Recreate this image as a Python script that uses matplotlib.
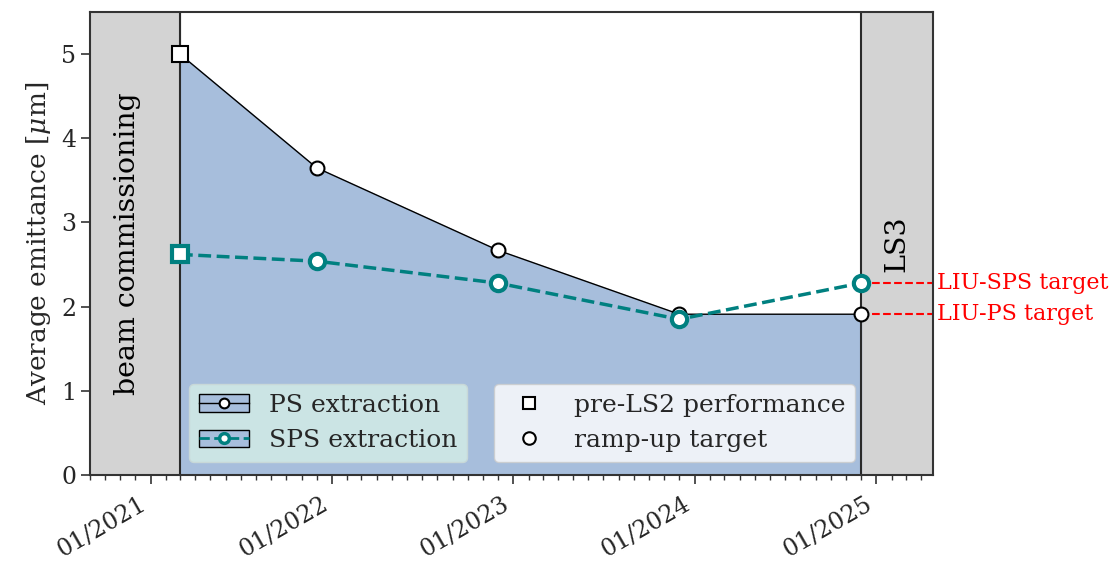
import datetime as dt
import matplotlib
matplotlib.use("Agg")
import matplotlib.pyplot as plt
import matplotlib.dates as mdates
from matplotlib.lines import Line2D
from matplotlib.patches import Patch

plt.rcParams["font.family"] = "DejaVu Serif"
plt.rcParams["mathtext.fontset"] = "dejavuserif"

# ---- data ---------------------------------------------------------------
dates = [dt.datetime(2021, 3, 1), dt.datetime(2021, 12, 1), dt.datetime(2022, 12, 1),
         dt.datetime(2023, 12, 1), dt.datetime(2024, 12, 1)]
ps_emit = [5.0, 3.65, 2.67, 1.91, 1.91]
sps_emit = [2.62, 2.54, 2.28, 1.85, 2.28]

x_start = dt.datetime(2020, 9, 1)
x_end = dt.datetime(2025, 4, 25)
commissioning_end = dt.datetime(2021, 3, 1)
ls3_start = dt.datetime(2024, 12, 1)
ps_target = 1.91
sps_target = 2.28

fill_col = "#a7bedc"
teal = "#008080"
txt = "#262626"

fig = plt.figure(figsize=(11.15, 5.63), dpi=100)
ax = fig.add_axes([0.0807, 0.1563, 0.7561, 0.8224])

# shaded periods
ax.axvspan(x_start, commissioning_end, color="lightgray", zorder=0)
ax.axvspan(ls3_start, x_end, color="lightgray", zorder=0)

# PS area + line
ax.fill_between(dates, 0, ps_emit, color=fill_col, zorder=1)
ax.axvline(commissioning_end, color="#2a2a2a", lw=1.5, zorder=2)
ax.axvline(ls3_start, color="#2a2a2a", lw=1.5, zorder=2)
ax.plot(dates, ps_emit, color="k", lw=1, zorder=3)
ax.plot(dates[1:], ps_emit[1:], ls="none", marker="o", ms=10, mfc="white",
        mec="k", mew=1.5, zorder=4)
ax.plot(dates[:1], ps_emit[:1], ls="none", marker="s", ms=11, mfc="white",
        mec="k", mew=1.5, zorder=4)

# SPS line
ax.plot(dates, sps_emit, color=teal, lw=2.5, ls="--", zorder=5)
ax.plot(dates[1:], sps_emit[1:], ls="none", marker="o", ms=11, mfc="white",
        mec=teal, mew=3, zorder=6)
ax.plot(dates[:1], sps_emit[:1], ls="none", marker="s", ms=11, mfc="white",
        mec=teal, mew=3, zorder=6)

# LIU targets
for val, lab in [(sps_target, "LIU-SPS target"), (ps_target, "LIU-PS target")]:
    ax.plot([ls3_start, x_end], [val, val], color="red", ls="--", lw=1.5,
            zorder=2, clip_on=False)
    ax.annotate(lab, xy=(1.005, val), xycoords=("axes fraction", "data"),
                color="red", fontsize=16, va="center", ha="left")

# period labels
ax.text(dt.datetime(2020, 11, 15), 2.75, "beam commissioning", rotation=90,
        ha="center", va="center", fontsize=20.5, color="k")
ax.text(dt.datetime(2025, 2, 12), 2.75, "LS3", rotation=90,
        ha="center", va="center", fontsize=20.5, color="k")

ax.set_xlim(x_start, x_end)
ax.set_ylim(0, 5.5)
ax.set_yticks([0, 1, 2, 3, 4, 5])
ax.set_ylabel(r"Average emittance [$\mu$m]", fontsize=19, color=txt, labelpad=6)

ax.xaxis.set_major_locator(mdates.YearLocator())
ax.xaxis.set_minor_locator(mdates.MonthLocator())
ax.xaxis.set_major_formatter(mdates.DateFormatter("%m/%Y"))
ax.tick_params(axis="both", which="major", length=6.5, width=1.2,
               colors="#333333", labelcolor=txt)
ax.tick_params(axis="y", labelsize=17)
ax.tick_params(axis="x", labelsize=17, pad=6)
ax.tick_params(axis="x", which="minor", length=3.5, width=1, colors="#333333")
for lbl in ax.get_xticklabels():
    lbl.set_rotation(30)
    lbl.set_ha("right")
for sp in ax.spines.values():
    sp.set_color("#333333")
    sp.set_linewidth(1.5)

# legends
h_ps = (Patch(facecolor=fill_col, edgecolor="k"),
        Line2D([], [], color="k", lw=1, marker="o", ms=7, mfc="white", mec="k", mew=1.5))
h_sps = (Patch(facecolor=fill_col, edgecolor="k"),
         Line2D([], [], color=teal, lw=2, ls="--", marker="o", ms=7, mfc="white",
                mec=teal, mew=2.5))
leg1 = ax.legend([h_ps, h_sps], ["PS extraction", "SPS extraction"],
                 loc="lower left", bbox_to_anchor=(0.117, 0.028), borderaxespad=0,
                 fontsize=18, facecolor="#cbe4e4", framealpha=1,
                 edgecolor="#c8d8d8")
for t in leg1.get_texts():
    t.set_color(txt)
ax.add_artist(leg1)

h_pre = Line2D([], [], ls="none", marker="s", ms=9, mfc="white", mec="k", mew=1.5)
h_ramp = Line2D([], [], ls="none", marker="o", ms=9, mfc="white", mec="k", mew=1.5)
leg2 = ax.legend([h_pre, h_ramp], ["pre-LS2 performance", "ramp-up target"],
                 loc="lower left", bbox_to_anchor=(0.479, 0.028), borderaxespad=0,
                 fontsize=18, facecolor="white", framealpha=0.8)
for t in leg2.get_texts():
    t.set_color(txt)

fig.savefig("out.png", dpi=100)
